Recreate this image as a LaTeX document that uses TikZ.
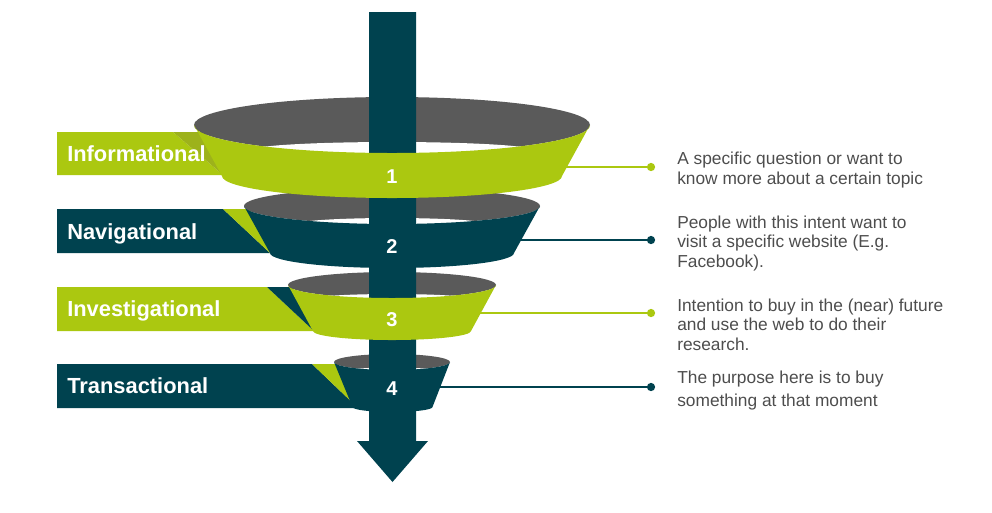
\documentclass[tikz,border=0pt]{standalone}
\usepackage{fontspec}
\setmainfont{Liberation Sans}
\usepackage{tikz}
\usepackage{xcolor}
\definecolor{fgreen}{RGB}{171,200,16}
\definecolor{fgreendark}{RGB}{157,178,27}
\definecolor{fteal}{RGB}{0,66,79}
\definecolor{fgrey}{RGB}{90,90,90}
\definecolor{desccol}{RGB}{77,77,77}

\begin{document}
\begin{tikzpicture}[x=0.75pt, y=-0.75pt,
    labtext/.style={text=white, font=\fontsize{16.4}{18}\selectfont\bfseries, anchor=base west, inner sep=0pt},
    numtext/.style={text=white, font=\fontsize{15}{17}\selectfont\bfseries, anchor=base, inner sep=0pt},
    desc/.style={text=desccol, font=\fontsize{13}{14.6}\selectfont, align=left, anchor=north west, inner sep=0pt},
    dot/.style={circle, fill, inner sep=0pt, minimum size=6.2pt},
    link/.style={line width=1.6pt}]
  \useasboundingbox (0,0) rectangle (992,512);
  %--- Banners with folds
  \fill[fgreen] (57,132) -- (173,132) -- (223,175) -- (57,175) -- cycle;
  \fill[fgreendark] (173,132) -- (205,132) -- (223,175) -- cycle;
  \fill[fteal] (57,209) -- (223,209) -- (270,253) -- (57,253) -- cycle;
  \fill[fgreen] (223,209) -- (250,209) -- (270,253) -- cycle;
  \fill[fgreen] (57,287) -- (267,287) -- (314,331) -- (57,331) -- cycle;
  \fill[fteal] (267,287) -- (292,287) -- (314,331) -- cycle;
  \fill[fteal] (57,364) -- (312,364) -- (358,408) -- (57,408) -- cycle;
  \fill[fgreen] (312,364) -- (338,364) -- (358,408) -- cycle;
  %--- Inside of the rings
  \fill[fgrey] (392,125) ellipse [x radius=198, y radius=28];
  \fill[white] (392,150) ellipse [x radius=140, y radius=8];
  \fill[fgrey] (392,206) ellipse [x radius=148, y radius=18];
  \fill[white] (392,224) ellipse [x radius=95, y radius=6];
  \fill[fgrey] (392,285) ellipse [x radius=104, y radius=13];
  \fill[white] (392,299) ellipse [x radius=80, y radius=5];
  \fill[fgrey] (392,362) ellipse [x radius=58, y radius=8];
  \fill[white] (392,370) ellipse [x radius=40, y radius=2.5];
  %--- Arrow through the funnel
  \fill[fteal] (369,12) -- (416,12) -- (416,441) -- (428,441) -- (392.5,482)
    -- (357,441) -- (369,441) -- cycle;
  %--- Connectors
  \coordinate (s1) at (560,167);
  \coordinate (s2) at (515,240);
  \coordinate (s3) at (475,313);
  \coordinate (s4) at (430,387);
  \node[dot, fgreen] (d1) at (651,167) {};
  \node[dot, fteal]  (d2) at (651,240) {};
  \node[dot, fgreen] (d3) at (651,313) {};
  \node[dot, fteal]  (d4) at (651,387) {};
  \draw[link, fgreen] (s1) -- (d1);
  \draw[link, fteal]  (s2) -- (d2);
  \draw[link, fgreen] (s3) -- (d3);
  \draw[link, fteal]  (s4) -- (d4);
  %--- Front of the rings
  \fill[fgreen] (194,125) arc[start angle=180, end angle=0, x radius=198, y radius=28]
    -- (562,176) arc[start angle=0, end angle=180, x radius=170, y radius=22] -- cycle;
  \fill[fteal] (244,206) arc[start angle=180, end angle=0, x radius=148, y radius=18]
    -- (514,253) arc[start angle=0, end angle=180, x radius=122, y radius=15] -- cycle;
  \fill[fgreen] (288,285) arc[start angle=180, end angle=0, x radius=104, y radius=13]
    -- (471,331) arc[start angle=0, end angle=180, x radius=79, y radius=9] -- cycle;
  \fill[fteal] (334,362) arc[start angle=180, end angle=0, x radius=58, y radius=8]
    -- (432.5,407) arc[start angle=0, end angle=180, x radius=40, y radius=5] -- cycle;
  %--- Numbers
  \node[numtext] (n1) at (392,183.3) {1};
  \node[numtext] (n2) at (392,253.3) {2};
  \node[numtext] (n3) at (392,326.7) {3};
  \node[numtext] (n4) at (392,395.7) {4};
  %--- Labels
  \node[labtext] (lab1) at (67,161.7) {Informational};
  \node[labtext] (lab2) at (67,239.3) {Navigational};
  \node[labtext] (lab3) at (67,316) {Investigational};
  \node[labtext] (lab4) at (67,393.3) {Transactional};
  %--- Descriptions
  \node[desc] (t1) at (677,152) {A specific question or want to\\know more about a certain topic};
  \node[desc] (t2) at (677,215.6) {People with this intent want to\\visit a specific website (E.g.\\Facebook).};
  \node[desc] (t3) at (677,298.6) {Intention to buy in the (near) future\\and use the web to do their\\research.};
  \node[desc, font=\fontsize{13}{17}\selectfont] (t4) at (677,370.6) {The purpose here is to buy\\something at that moment};
\end{tikzpicture}
\end{document}
